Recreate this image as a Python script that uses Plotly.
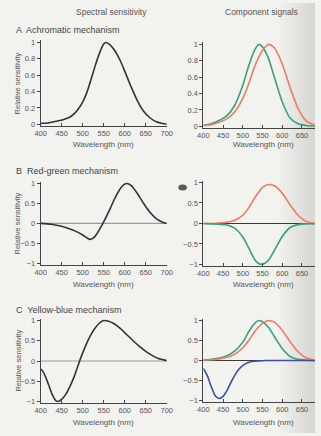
import plotly.graph_objects as go

W, H = 321, 436

# ---------------- data ----------------
ticks_x = [400, 450, 500, 550, 600, 650, 700]
ticks_y_a = [0, 0.2, 0.4, 0.6, 0.8, 1]
ticks_y_bc = [-1, -0.5, 0, 0.5, 1]

# A: achromatic mechanism
wl_ach = [400, 420, 440, 455, 470, 480, 490, 500, 510, 520, 530, 540, 550, 555, 563, 575, 590, 600, 615, 630, 645, 660, 675, 690, 700]
ach = [0.01, 0.02, 0.04, 0.06, 0.09, 0.13, 0.19, 0.27, 0.39, 0.55, 0.72, 0.87, 0.98, 1.0, 0.98, 0.91, 0.77, 0.65, 0.46, 0.29, 0.16, 0.08, 0.03, 0.01, 0.0]

wl_cone = [400, 420, 440, 460, 480, 500, 515, 530, 540, 550, 565, 580, 600, 620, 640, 660, 683]
m_a = [0.01, 0.03, 0.07, 0.13, 0.26, 0.50, 0.74, 0.93, 1.0, 0.97, 0.83, 0.60, 0.30, 0.10, 0.03, 0.01, 0.0]
l_a = [0.01, 0.02, 0.05, 0.09, 0.18, 0.34, 0.52, 0.73, 0.84, 0.93, 1.0, 0.96, 0.76, 0.47, 0.22, 0.07, 0.01]

# B: red-green mechanism
wl_rg = [400, 425, 450, 475, 490, 500, 510, 517, 525, 533, 540, 550, 560, 570, 580, 590, 598, 605, 615, 630, 645, 660, 675, 690, 700]
rg = [0.0, -0.02, -0.07, -0.16, -0.23, -0.29, -0.36, -0.40, -0.37, -0.27, -0.15, 0.04, 0.25, 0.48, 0.70, 0.88, 0.97, 1.0, 0.95, 0.75, 0.50, 0.28, 0.12, 0.03, 0.0]

l_b = [0.0, 0.0, 0.01, 0.03, 0.08, 0.20, 0.38, 0.62, 0.76, 0.88, 0.95, 0.92, 0.74, 0.45, 0.20, 0.05, 0.0]
m_b = [0.0, -0.01, -0.02, -0.04, -0.12, -0.33, -0.60, -0.88, -0.98, -1.0, -0.90, -0.66, -0.32, -0.10, -0.03, -0.01, -0.01]

# C: yellow-blue mechanism
wl_yb = [400, 405, 412, 420, 428, 436, 442, 450, 460, 470, 480, 490, 500, 510, 520, 530, 540, 550, 560, 575, 590, 605, 620, 635, 650, 665, 680, 700]
yb = [-0.2, -0.25, -0.40, -0.62, -0.84, -0.98, -1.0, -0.95, -0.82, -0.62, -0.38, -0.08, 0.20, 0.45, 0.66, 0.82, 0.94, 1.0, 0.99, 0.92, 0.80, 0.65, 0.50, 0.36, 0.24, 0.14, 0.06, 0.01]

m_c = [0.01, 0.03, 0.06, 0.12, 0.24, 0.46, 0.72, 0.93, 1.0, 0.97, 0.83, 0.60, 0.30, 0.10, 0.03, 0.01, 0.0]
l_c = [0.01, 0.02, 0.04, 0.08, 0.16, 0.32, 0.50, 0.72, 0.84, 0.93, 1.0, 0.96, 0.76, 0.47, 0.22, 0.07, 0.01]

wl_s = [400, 410, 420, 430, 440, 450, 460, 475, 490, 505, 520, 540, 560, 600, 683]
s_c = [-0.2, -0.38, -0.65, -0.88, -0.95, -0.90, -0.75, -0.45, -0.22, -0.09, -0.03, -0.01, 0.0, 0.0, 0.0]

# ---------------- style ----------------
FONT = "Liberation Sans"
TXT = "#555555"
BLACK = "#333333"
GREEN = "#34a477"
RED = "#ee7a62"
BLUE = "#3c4ea6"
BG = "#f2f2ef"


def ydom(py_hi, v_hi, py_lo, v_lo, r0, r1):
    s = (py_lo - py_hi) / (v_hi - v_lo)
    p0 = py_lo + (v_lo - r0) * s
    p1 = py_lo - (r1 - v_lo) * s
    return [1 - p0 / H, 1 - p1 / H]


xl_dom = [36 / W, 167 / W]
xr_dom = [205 / W, 1.0]
xl_rng = [400, 700]
xr_rng = [400, 683]

rA = [-0.015, 1.03]
rBC = [-1.03, 1.03]
panels = [
    (xl_dom, xl_rng, ydom(40, 1, 123, 0, *rA), rA, ticks_y_a),
    (xr_dom, xr_rng, ydom(42, 1, 125, 0, *rA), rA, ticks_y_a),
    (xl_dom, xl_rng, ydom(183, 1, 264, -1, *rBC), rBC, ticks_y_bc),
    (xr_dom, xr_rng, ydom(182, 1, 265, -1, *rBC), rBC, ticks_y_bc),
    (xl_dom, xl_rng, ydom(322, 1, 404, -1, *rBC), rBC, ticks_y_bc),
    (xr_dom, xr_rng, ydom(322, 1, 403, -1, *rBC), rBC, ticks_y_bc),
]

fig = go.Figure()


def add(i, x, y, color, width=1.6):
    sfx = "" if i == 1 else str(i)
    fig.add_trace(go.Scatter(x=x, y=y, mode="lines",
                             line=dict(color=color, width=width, shape="spline", smoothing=0.7),
                             xaxis="x" + sfx, yaxis="y" + sfx, showlegend=False, hoverinfo="skip"))


# zero lines
for i, (xd, xr, yd, yr, yt) in enumerate(panels, start=1):
    if i >= 3:
        col = "#9a9a9a" if i % 2 == 1 else "#3a3a3a"
        add(i, [xr[0], xr[1]], [0, 0], col, 1.1)

add(1, wl_ach, ach, BLACK)
add(2, wl_cone, m_a, GREEN)
add(2, wl_cone, l_a, RED)
add(3, wl_rg, rg, BLACK)
add(4, wl_cone, l_b, RED)
add(4, wl_cone, m_b, GREEN)
add(5, wl_yb, yb, BLACK)
add(6, wl_cone, m_c, GREEN)
add(6, wl_cone, l_c, RED)
add(6, wl_s, s_c, BLUE)

layout = dict(
    width=W, height=H, margin=dict(l=0, r=0, t=0, b=0),
    paper_bgcolor=BG, plot_bgcolor="rgba(0,0,0,0)",
    font=dict(family=FONT, size=8, color=TXT),
    showlegend=False,
)

for i, (xd, xr, yd, yr, yt) in enumerate(panels, start=1):
    sfx = "" if i == 1 else str(i)
    layout["xaxis" + sfx] = dict(
        domain=xd, range=xr, anchor="y" + sfx, tickvals=ticks_x, ticks="inside", ticklen=3,
        tickcolor="#444", showline=True, linecolor="#444", linewidth=1, showgrid=False, zeroline=False,
        tickfont=dict(size=7.5, color=TXT), fixedrange=True,
    )
    layout["yaxis" + sfx] = dict(
        domain=yd, range=yr, anchor="x" + sfx, tickvals=yt, ticks="outside", ticklen=3,
        tickcolor="#444", showline=True, linecolor="#444", linewidth=1, showgrid=False, zeroline=False,
        tickfont=dict(size=7.5, color=TXT), fixedrange=True,
    )

fig.update_layout(**layout)

ann = []


def txt(x, y, s, size=8, xanchor="center", textangle=0, color=TXT):
    ann.append(dict(x=x / W, y=1 - y / H, xref="paper", yref="paper", text=s, showarrow=False,
                    xanchor=xanchor, yanchor="middle", textangle=textangle,
                    font=dict(family=FONT, size=size, color=color)))


txt(110, 9, "Spectral sensitivity", 8.5)
txt(265, 9, "Component signals", 8.5)
txt(8, 27, "A  Achromatic mechanism", 9, "left", color="#444")
txt(8, 170, "B  Red-green mechanism", 9, "left", color="#444")
txt(8, 311, "C  Yellow-blue mechanism", 9, "left", color="#444")
for yc in (82, 224, 363):
    txt(12, yc, "Relative sensitivity", 7.5, textangle=-90)
for yw in (143, 285, 425):
    txt(101, yw, "Wavelength (nm)", 8)
    txt(268, yw, "Wavelength (nm)", 8)

fig.update_layout(annotations=ann)

# page shading at the right edge (scanned page curvature)
shapes = []
for k in range(9):
    x0 = 284 + k * 4
    shapes.append(dict(type="rect", xref="paper", yref="paper", x0=x0 / W, x1=1, y0=0, y1=1,
                       fillcolor="rgba(110,140,145,0.022)", line=dict(width=0), layer="below"))
# small ink smudge
shapes.append(dict(type="circle", xref="paper", yref="paper", x0=179 / W, x1=188 / W,
                   y0=1 - 190 / H, y1=1 - 184 / H, fillcolor="#5a5a5a", line=dict(width=0), layer="above"))
fig.update_layout(shapes=shapes)

fig.write_html("out.html", config={"displayModeBar": False, "staticPlot": True},
               post_script="document.body.style.margin='0';document.body.style.background='%s';" % BG)
